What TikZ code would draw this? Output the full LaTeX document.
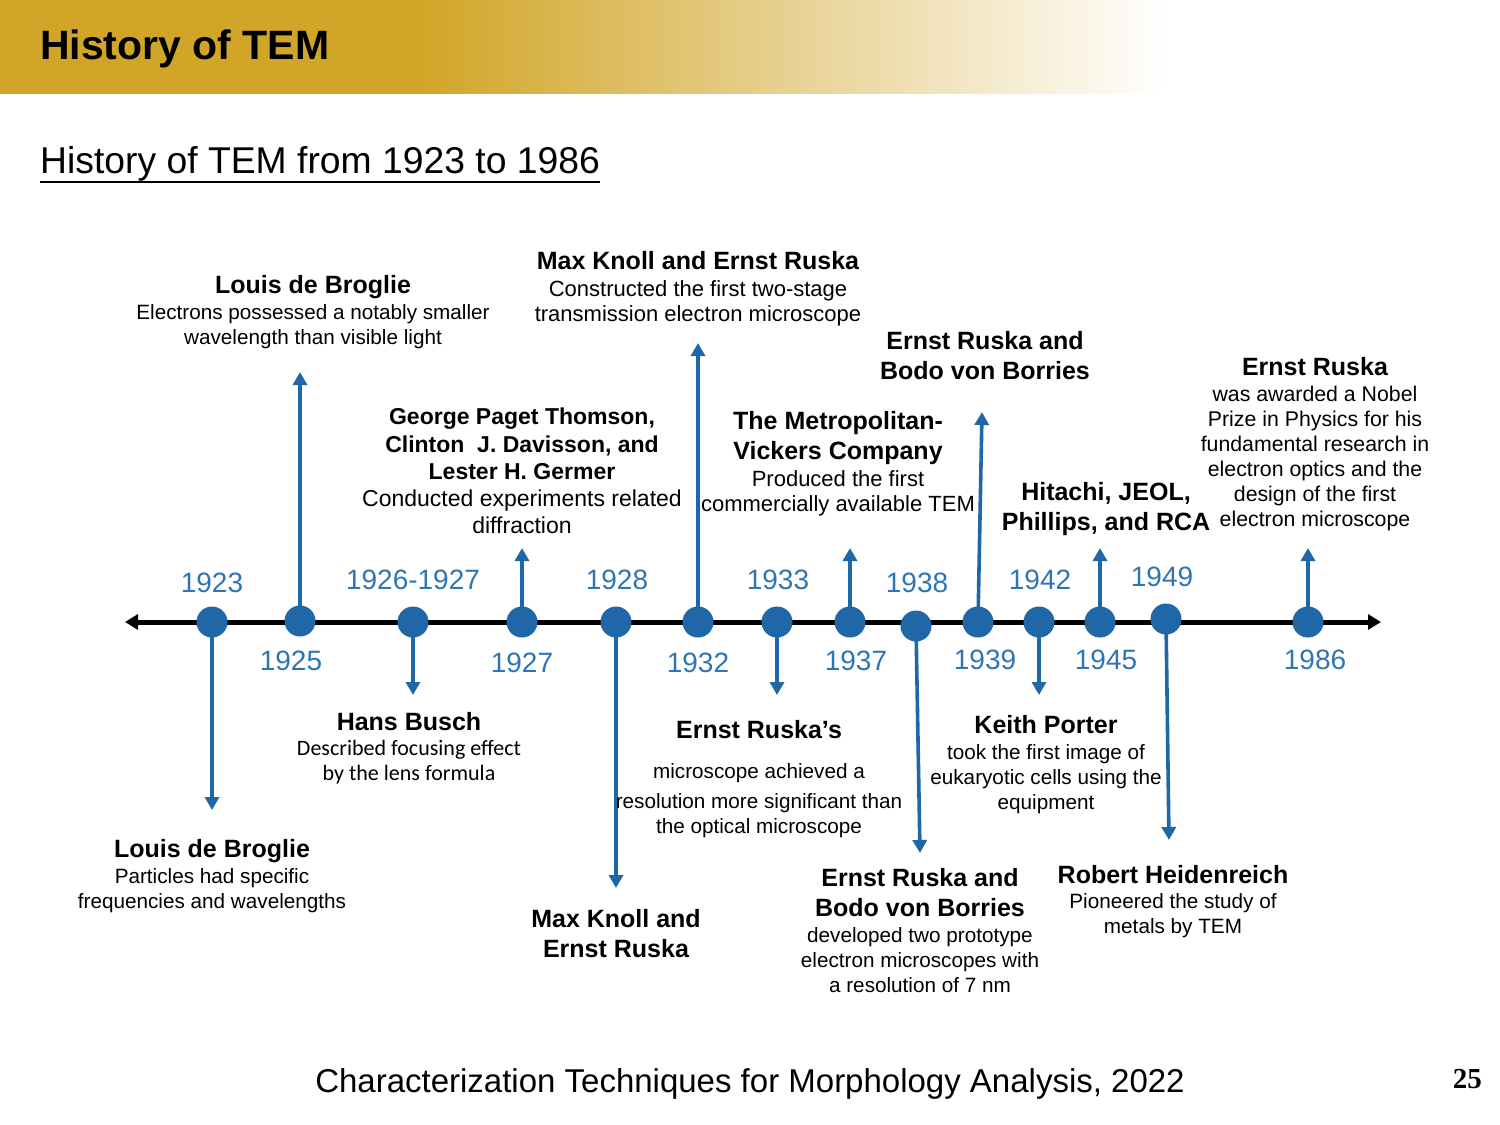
\documentclass[tikz,border=0pt]{standalone}
\usepackage{fontspec}
\setmainfont{Liberation Sans}
\newfontfamily\calibfont{Carlito}
\newfontfamily\timesfont{Liberation Serif}
\usetikzlibrary{arrows.meta,shapes.geometric}
\definecolor{gold}{HTML}{D1A527}
\definecolor{tlblue}{HTML}{2067A8}
\definecolor{yrblue}{HTML}{2E75B6}
% gold that stays solid for the first third, then fades to white
\pgfdeclarehorizontalshading{bannerfade}{100bp}{color(0bp)=(gold); color(43bp)=(gold); color(75bp)=(white); color(100bp)=(white)}
\newcommand\evhead[1]{{\bfseries\fontsize{25}{30}\selectfont #1}}
\begin{document}
\begin{tikzpicture}[x=1pt,y=-1pt,
  dot/.style={ellipse,fill=tlblue,minimum width=31pt,minimum height=31pt,inner sep=0pt},
  conn/.style={draw=tlblue,line width=3.6pt,-{Triangle[width=14pt,length=13pt]}},
  axis/.style={draw=black,line width=5pt,{Triangle[width=15pt,length=13pt]}-{Triangle[width=15pt,length=13pt]}},
  year/.style={text=yrblue,font=\fontsize{28}{34}\selectfont,inner sep=0pt},
  evt/.style={align=center,inner sep=0pt,anchor=north,font=\fontsize{20.7}{25}\selectfont},
]
\useasboundingbox (0,0) rectangle (1500,1125);
\fill[white] (0,0) rectangle (1500,1125);

% title banner
\shade[shading=bannerfade] (0,0) rectangle (1166,93);
\node[anchor=base west,inner sep=0pt,font=\bfseries\fontsize{41}{48}\selectfont] (title) at (40,59) {History of TEM};
\node[anchor=base west,inner sep=0pt,font=\fontsize{37.3}{44}\selectfont] (subtitle) at (40,173) {History of TEM from 1923 to 1986};
\draw[line width=2pt] (40,182) -- (600,182);

% time axis
\coordinate (axL) at (125,622);
\coordinate (axR) at (1381,622);
\draw[axis] (axL) -- (axR);

% event markers
\node[dot] (d1923) at (212,622) {};
\node[dot] (d1925) at (300,621) {};
\node[dot] (d1926) at (413,622) {};
\node[dot] (d1927) at (522,622) {};
\node[dot] (d1928) at (616,622) {};
\node[dot] (d1932) at (698,622) {};
\node[dot] (d1933) at (777,622) {};
\node[dot] (d1937) at (850,622) {};
\node[dot] (d1938) at (916,626) {};
\node[dot] (d1939) at (978,622) {};
\node[dot] (d1942) at (1039,622) {};
\node[dot] (d1945) at (1100,622) {};
\node[dot] (d1949) at (1166,619) {};
\node[dot] (d1986) at (1308,622) {};

% arrow ends
\coordinate (e1923) at (212,810);
\coordinate (e1925) at (300,372);
\coordinate (e1926) at (413,695);
\coordinate (e1927) at (522,548);
\coordinate (e1928) at (616,888);
\coordinate (e1932) at (698,343);
\coordinate (e1933) at (777,695);
\coordinate (e1937) at (850,548);
\coordinate (e1938) at (920,853);
\coordinate (e1939) at (982,412);
\coordinate (e1942) at (1039,695);
\coordinate (e1945) at (1100,548);
\coordinate (e1949) at (1169,840);
\coordinate (e1986) at (1308,548);

\foreach \y in {1923,1925,1926,1927,1928,1932,1933,1937,1938,1939,1942,1945,1949,1986}
  \draw[conn] (d\y.center) -- (e\y);

% year labels
\node[year] (y1923) at (212,583) {1923};
\node[year] (y1925) at (291,661) {1925};
\node[year] (y1926) at (413,580) {1926-1927};
\node[year] (y1927) at (522,663) {1927};
\node[year] (y1928) at (617,580) {1928};
\node[year] (y1932) at (698,663) {1932};
\node[year] (y1933) at (778,580) {1933};
\node[year] (y1937) at (856,661) {1937};
\node[year] (y1938) at (917,583) {1938};
\node[year] (y1939) at (985,660) {1939};
\node[year] (y1942) at (1040,580) {1942};
\node[year] (y1945) at (1106,660) {1945};
\node[year] (y1949) at (1162,577) {1949};
\node[year] (y1986) at (1315,660) {1986};

% events above the axis
\node[evt] (t1925) at (313,275) {\evhead{Louis de Broglie}\\[1pt]
  Electrons possessed a notably smaller\\ wavelength than visible light};
\node[evt,font=\fontsize{22}{25}\selectfont] (t1932) at (698,251) {\evhead{Max Knoll and Ernst Ruska}\\[2pt]
  Constructed the first two-stage\\ transmission electron microscope};
\node[evt,font=\fontsize{23}{27}\selectfont] (t1927) at (522,408) {{\bfseries George Paget Thomson,}\\[1pt]
  {\bfseries Clinton\ \ J. Davisson, and}\\ {\bfseries Lester H. Germer}\\[0pt]
  Conducted experiments related\\ diffraction};
\node[evt,font=\fontsize{22}{25}\selectfont] (t1937) at (838,411) {\evhead{The Metropolitan-}\\[5pt]
  \evhead{Vickers Company}\\[2pt] Produced the first\\ commercially available TEM};
\node[evt] (t1939) at (985,331) {\evhead{Ernst Ruska and}\\[5pt] \evhead{Bodo von Borries}};
\node[evt] (t1945) at (1106,482) {\evhead{Hitachi, JEOL,}\\[5pt] \evhead{Phillips, and RCA}};
\node[evt,font=\fontsize{21.3}{25}\selectfont] (t1986) at (1315,357) {\evhead{Ernst Ruska}\\[1pt]
  was awarded a Nobel\\ Prize in Physics for his\\ fundamental research in\\
  electron optics and the\\ design of the first\\ electron microscope};

% events below the axis
\node[evt] (t1926) at (409,712) {\evhead{Hans Busch}\\[0pt]
  {\calibfont\fontsize{22}{25}\selectfont Described focusing effect}\\
  {\calibfont\fontsize{22}{25}\selectfont by the lens formula}};
\node[evt] (t1933) at (759,720) {\evhead{Ernst Ruska’s}\\[15pt]
  microscope achieved a\\[5pt] resolution more significant than\\ the optical microscope};
\node[evt] (t1923) at (212,839) {\evhead{Louis de Broglie}\\[1pt]
  Particles had specific\\ frequencies and wavelengths};
\node[evt] (t1928) at (616,909) {\evhead{Max Knoll and}\\[5pt] \evhead{Ernst Ruska}};
\node[evt] (t1938) at (920,868) {\evhead{Ernst Ruska and}\\[5pt] \evhead{Bodo von Borries}\\[1pt]
  developed two prototype\\ electron microscopes with\\ a resolution of 7 nm};
\node[evt] (t1942) at (1046,715) {\evhead{Keith Porter}\\[1pt]
  took the first image of\\ eukaryotic cells using the\\ equipment};
\node[evt] (t1949) at (1173,865) {\evhead{Robert Heidenreich}\\[0pt]
  Pioneered the study of\\ metals by TEM};

% footer
\node[anchor=base,inner sep=0pt,font=\fontsize{33}{40}\selectfont] (footer) at (750,1092)
  {Characterization Techniques for Morphology Analysis, 2022};
\node[anchor=base east,inner sep=0pt,font=\timesfont\bfseries\fontsize{29}{34}\selectfont] (page) at (1482,1088) {25};
\end{tikzpicture}
\end{document}
